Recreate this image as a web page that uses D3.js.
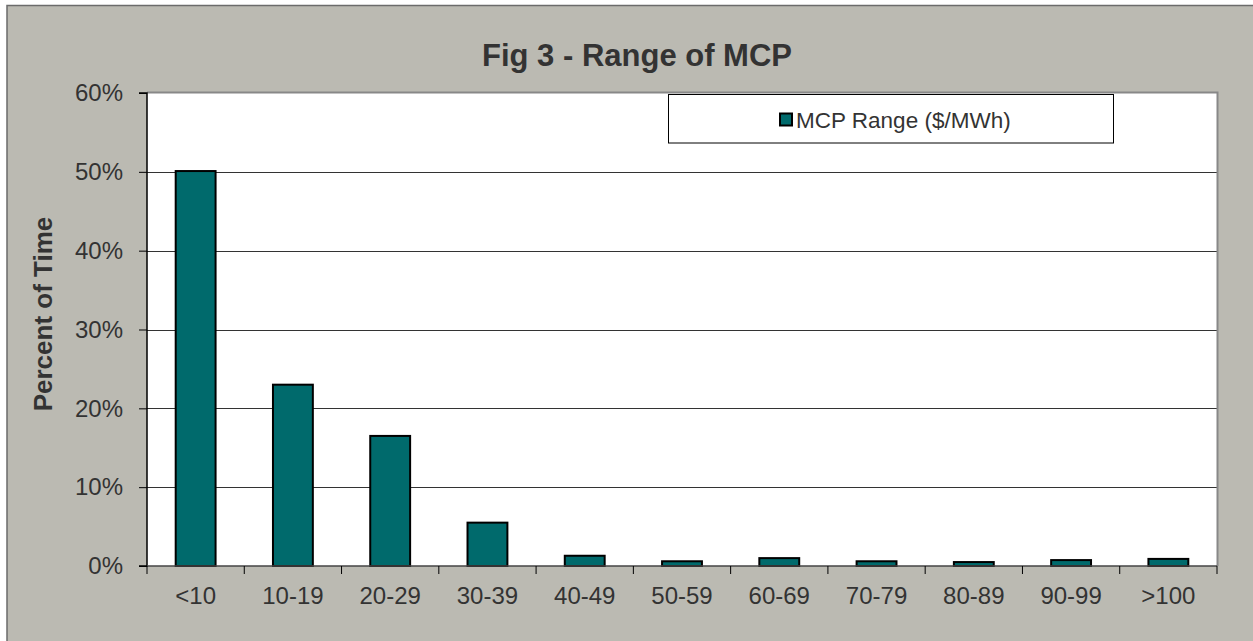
<!DOCTYPE html>
<html><head><meta charset="utf-8">
<script src="https://cdn.jsdelivr.net/npm/d3@7"></script>
<style>body{margin:0;background:#fff}svg{display:block}</style>
</head><body>
<svg id="c" width="1253" height="641"></svg>
<script>
const categories = ["<10","10-19","20-29","30-39","40-49","50-59","60-69","70-79","80-89","90-99",">100"];
const values = [50.1, 23.0, 16.5, 5.5, 1.3, 0.6, 1.0, 0.6, 0.5, 0.75, 0.9];
const yTicks = [0,10,20,30,40,50,60];
const seriesName = "MCP Range ($/MWh)";
const title = "Fig 3 - Range of MCP";
const yTitle = "Percent of Time";

const svg = d3.select("#c");
const W=1253,H=641;
const font = "Arial, 'Liberation Sans', sans-serif";
svg.append("rect").attr("x",0).attr("y",0).attr("width",W).attr("height",H).attr("fill","#fff");
svg.append("rect").attr("x",7).attr("y",5).attr("width",W-7).attr("height",H-5).attr("fill","#BBBAB2");
svg.append("path").attr("d",`M7,${H}V5.5H${W}`).attr("fill","none").attr("stroke","#6b6b6b").attr("stroke-width",1.5);

const L=147,T=93,R=1217,B=566;
const x = d3.scaleBand().domain(categories).range([L,R]).paddingInner(0.59).paddingOuter(0.295);
const y = d3.scaleLinear().domain([0,60]).range([B,T]);

svg.append("rect").attr("x",L).attr("y",T).attr("width",R-L).attr("height",B-T).attr("fill","#fff");
// gridlines
svg.append("g").selectAll("line").data(yTicks.filter(d=>d>0&&d<60)).join("line")
  .attr("x1",L).attr("x2",R).attr("y1",d=>Math.round(y(d))+0.5).attr("y2",d=>Math.round(y(d))+0.5)
  .attr("stroke","#333").attr("stroke-width",1);
// plot border top/right
svg.append("path").attr("d",`M${L},${T-0.5}H${R+0.5}V${B}`).attr("fill","none").attr("stroke","#888").attr("stroke-width",2);

// bars
svg.append("g").selectAll("rect").data(values).join("rect")
  .attr("x",(d,i)=>x(categories[i])).attr("width",x.bandwidth())
  .attr("y",d=>y(d)).attr("height",d=>B-y(d))
  .attr("fill","#006A6C").attr("stroke","#000").attr("stroke-width",2);

// y axis
const yAxis = d3.axisLeft(y).tickValues(yTicks).tickFormat(d=>d+"%").tickSize(8).tickPadding(16);
const ga = svg.append("g").attr("transform",`translate(${L},0)`).call(yAxis);
ga.select(".domain").attr("stroke","#000").attr("stroke-width",1.5).attr("d",`M-8,${T}H0V${B}H-8`);
ga.selectAll(".tick line").attr("stroke","#000");
ga.selectAll("text").attr("font-family",font).attr("font-size",24).attr("fill","#333");

// x axis
const xb = d3.scaleLinear().domain([0,categories.length]).range([L,R]);
const gx = svg.append("g").attr("transform",`translate(0,${B})`);
gx.append("line").attr("x1",L).attr("x2",R).attr("y1",0).attr("y2",0).attr("stroke","#444").attr("stroke-width",1.5);
gx.selectAll("line.t").data(d3.range(categories.length+1)).join("line").attr("class","t")
  .attr("x1",d=>xb(d)).attr("x2",d=>xb(d)).attr("y1",0).attr("y2",8).attr("stroke","#000");
gx.selectAll("text").data(categories).join("text")
  .attr("x",d=>x(d)+x.bandwidth()/2).attr("y",38).attr("text-anchor","middle")
  .attr("font-family",font).attr("font-size",24).attr("fill","#333").text(d=>d);

// title
svg.append("text").attr("x",637).attr("y",66).attr("text-anchor","middle")
  .attr("font-family",font).attr("font-size",31).attr("font-weight","bold").attr("fill","#333").text(title);
svg.append("text").attr("transform","translate(52,314) rotate(-90)").attr("text-anchor","middle")
  .attr("font-family",font).attr("font-size",26).attr("font-weight","bold").attr("fill","#333").text(yTitle);

// legend
const lg = svg.append("g");
lg.append("rect").attr("x",668.5).attr("y",94.5).attr("width",445).attr("height",48.5).attr("fill","#fff").attr("stroke","#000").attr("stroke-width",1);
lg.append("rect").attr("x",780).attr("y",113.5).attr("width",12).attr("height",12).attr("fill","#006A6C").attr("stroke","#000").attr("stroke-width",2);
lg.append("text").attr("x",796).attr("y",128).attr("font-family",font).attr("font-size",22.5).attr("fill","#333").text(seriesName);
</script>
</body></html>
